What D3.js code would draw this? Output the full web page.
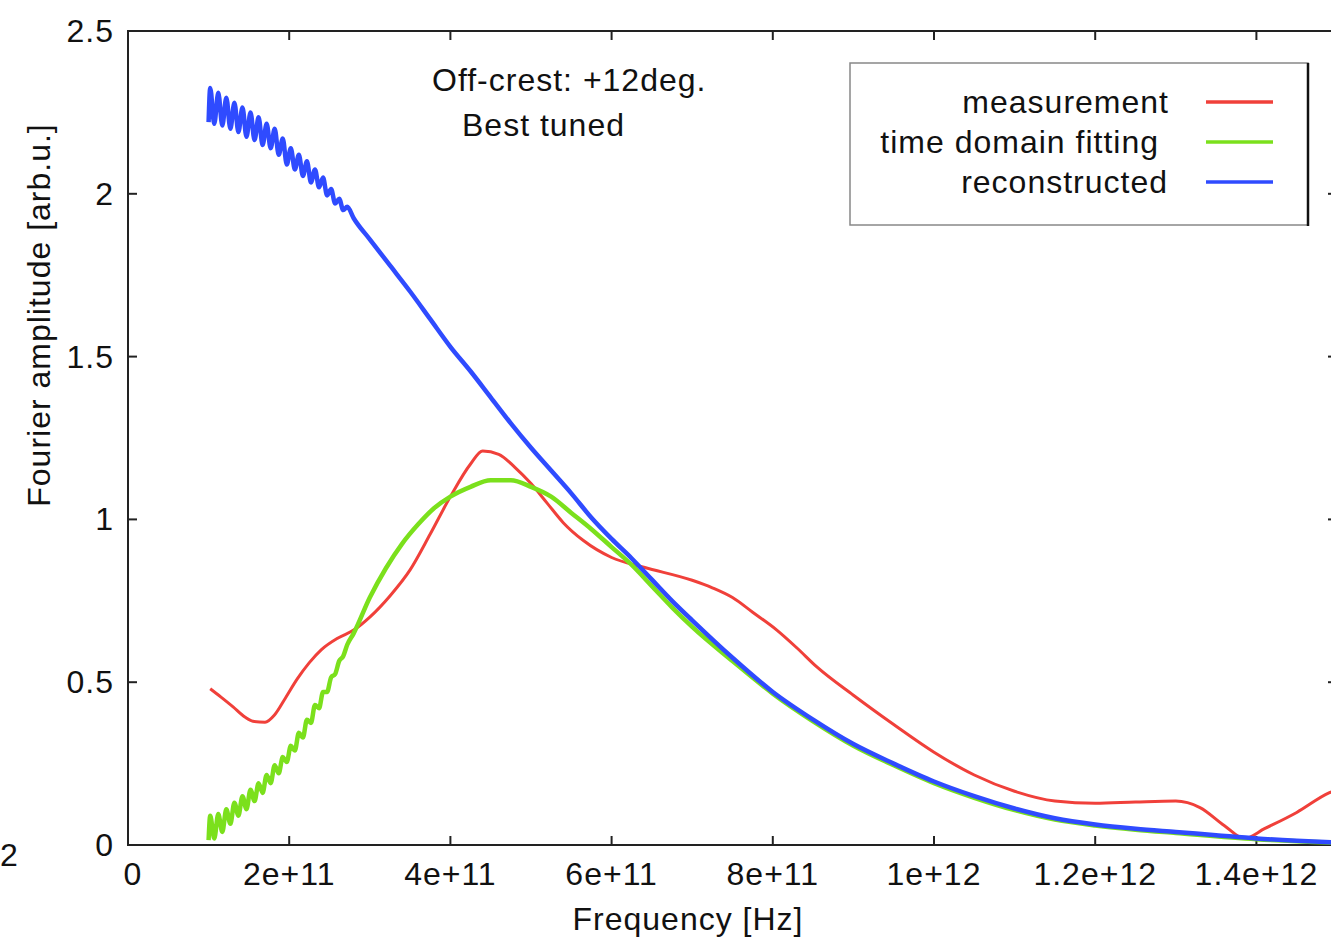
<!DOCTYPE html>
<html>
<head>
<meta charset="utf-8">
<script src="https://cdn.jsdelivr.net/npm/d3@7"></script>
<style>
  body { margin: 0; background: #fff; }
  svg text { font-family: "Liberation Sans", Arial, sans-serif; fill: #111; letter-spacing: 1px; }
</style>
</head>
<body>
<div id="chart"></div>
<script>
// Fourier amplitude spectra, off-crest +12deg
const xTicks = [0, 2e11, 4e11, 6e11, 8e11, 1e12, 1.2e12, 1.4e12];
const xTickLabels = ['0', '2e+11', '4e+11', '6e+11', '8e+11', '1e+12', '1.2e+12', '1.4e+12'];
const yTicks = [0, 0.5, 1, 1.5, 2, 2.5];
const yTickLabels = ['0', '0.5', '1', '1.5', '2', '2.5'];

// measurement (red)
const measFreq = [1.02e11, 1.15e11, 1.3e11, 1.45e11, 1.55e11, 1.7e11, 1.82e11, 1.95e11, 2.1e11, 2.25e11,
  2.4e11, 2.6e11, 2.8e11, 3.0e11, 3.25e11, 3.5e11, 3.75e11, 4.0e11, 4.25e11, 4.4e11, 4.6e11, 4.8e11,
  5.0e11, 5.2e11, 5.4e11, 5.65e11, 6.0e11, 6.4e11, 7.0e11, 7.25e11, 7.5e11, 7.75e11, 8.05e11, 8.3e11,
  8.55e11, 9.0e11, 9.5e11, 1.0e12, 1.05e12, 1.1e12, 1.15e12, 1.2e12, 1.25e12, 1.3e12, 1.33e12, 1.36e12,
  1.385e12, 1.41e12, 1.45e12, 1.49e12, 1.5e12];
const measAmp = [0.48, 0.455, 0.425, 0.393, 0.38, 0.377, 0.40, 0.45, 0.51, 0.56,
  0.60, 0.635, 0.66, 0.70, 0.765, 0.845, 0.955, 1.07, 1.17, 1.21, 1.20, 1.16,
  1.11, 1.05, 0.99, 0.935, 0.883, 0.853, 0.813, 0.79, 0.76, 0.715, 0.66, 0.605,
  0.546, 0.46, 0.37, 0.285, 0.215, 0.165, 0.135, 0.128, 0.132, 0.135, 0.115, 0.06,
  0.02, 0.05, 0.10, 0.16, 0.17];

// time domain fitting (green)
const fitFreq = [1.0e11, 1.02e11, 1.07e11, 1.12e11, 1.17e11, 1.22e11, 1.27e11, 1.32e11, 1.37e11, 1.42e11,
  1.47e11, 1.52e11, 1.57e11, 1.62e11, 1.67e11, 1.72e11, 1.77e11, 1.82e11, 1.87e11, 1.92e11,
  1.97e11, 2.02e11, 2.07e11, 2.12e11, 2.17e11, 2.22e11, 2.27e11, 2.32e11, 2.37e11, 2.42e11,
  2.47e11, 2.52e11, 2.57e11, 2.62e11, 2.67e11, 2.72e11, 2.8e11, 3.0e11, 3.2e11, 3.4e11,
  3.6e11, 3.8e11, 4.0e11, 4.25e11, 4.5e11, 4.75e11, 5.0e11, 5.25e11, 5.5e11, 5.75e11,
  6.0e11, 6.25e11, 6.5e11, 6.75e11, 7.0e11, 7.5e11, 8.0e11, 8.5e11, 9.0e11, 9.5e11,
  1.0e12, 1.05e12, 1.1e12, 1.15e12, 1.2e12, 1.25e12, 1.3e12, 1.4e12, 1.5e12];
const fitAmp = [0.015, 0.09, 0.02, 0.095, 0.04, 0.11, 0.065, 0.13, 0.09, 0.15,
  0.11, 0.17, 0.135, 0.19, 0.16, 0.215, 0.19, 0.245, 0.22, 0.27,
  0.255, 0.305, 0.29, 0.345, 0.33, 0.385, 0.375, 0.43, 0.42, 0.47,
  0.47, 0.515, 0.525, 0.565, 0.58, 0.615, 0.65, 0.76, 0.85, 0.925,
  0.985, 1.035, 1.07, 1.10, 1.12, 1.12, 1.10, 1.07, 1.02, 0.97,
  0.915, 0.86, 0.795, 0.73, 0.67, 0.565, 0.465, 0.38, 0.305, 0.245,
  0.19, 0.145, 0.107, 0.078, 0.06, 0.047, 0.037, 0.018, 0.007];

// reconstructed (blue)
const recFreq = [1.0e11, 1.02e11, 1.07e11, 1.12e11, 1.17e11, 1.22e11, 1.27e11, 1.32e11, 1.37e11, 1.42e11,
  1.47e11, 1.52e11, 1.57e11, 1.62e11, 1.67e11, 1.72e11, 1.77e11, 1.82e11, 1.87e11, 1.92e11,
  1.97e11, 2.02e11, 2.07e11, 2.12e11, 2.17e11, 2.22e11, 2.27e11, 2.32e11, 2.37e11, 2.42e11,
  2.47e11, 2.52e11, 2.57e11, 2.62e11, 2.67e11, 2.72e11, 2.8e11, 3.0e11, 3.25e11, 3.5e11,
  3.75e11, 4.0e11, 4.25e11, 4.5e11, 4.75e11, 5.0e11, 5.25e11, 5.5e11, 5.75e11, 6.0e11,
  6.25e11, 6.5e11, 6.75e11, 7.0e11, 7.5e11, 8.0e11, 8.5e11, 9.0e11, 9.5e11, 1.0e12,
  1.05e12, 1.1e12, 1.15e12, 1.2e12, 1.25e12, 1.3e12, 1.35e12, 1.4e12, 1.45e12, 1.5e12];
const recAmp = [2.22, 2.325, 2.215, 2.31, 2.21, 2.295, 2.20, 2.28, 2.19, 2.265,
  2.175, 2.25, 2.165, 2.235, 2.15, 2.215, 2.14, 2.20, 2.12, 2.17,
  2.09, 2.14, 2.075, 2.12, 2.055, 2.10, 2.035, 2.075, 2.02, 2.05,
  1.995, 2.015, 1.97, 1.985, 1.95, 1.96, 1.925, 1.86, 1.78, 1.70,
  1.615, 1.53, 1.455, 1.375, 1.295, 1.22, 1.15, 1.08, 1.005, 0.94,
  0.88, 0.815, 0.75, 0.69, 0.575, 0.47, 0.385, 0.31, 0.25, 0.195,
  0.15, 0.112, 0.082, 0.063, 0.05, 0.04, 0.03, 0.02, 0.013, 0.008];

const seriesNames = ['measurement', 'time domain fitting', 'reconstructed'];
const seriesColors = ['#f0403a', '#7be01c', '#2f4bff'];

const W = 1331, H = 939;
const M = { t: 31, r: -6, b: 94, l: 128 };
const FS = 32;

const svg = d3.select('#chart').append('svg')
  .attr('width', W)
  .attr('height', H)
  .style('display', 'block');

const x = d3.scaleLinear().domain([0, 1.5e12]).range([M.l, W - M.r]);
const y = d3.scaleLinear().domain([0, 2.5]).range([H - M.b, M.t]);

const axisColor = '#222';

// tick marks pointing inward on all four sides
const tickLen = 9;
const ticks = svg.append('g').attr('stroke', axisColor).attr('stroke-width', 2);
ticks.selectAll('.xb').data(xTicks.slice(1)).enter().append('line')
  .attr('x1', d => x(d)).attr('x2', d => x(d))
  .attr('y1', y(0)).attr('y2', y(0) - tickLen);
ticks.selectAll('.xt').data(xTicks.slice(1)).enter().append('line')
  .attr('x1', d => x(d)).attr('x2', d => x(d))
  .attr('y1', y(2.5)).attr('y2', y(2.5) + tickLen);
ticks.selectAll('.yl').data(yTicks.slice(1, -1)).enter().append('line')
  .attr('x1', x(0)).attr('x2', x(0) + tickLen)
  .attr('y1', d => y(d)).attr('y2', d => y(d));
ticks.selectAll('.yr').data(yTicks.slice(1, -1)).enter().append('line')
  .attr('x1', x(1.5e12)).attr('x2', x(1.5e12) - tickLen)
  .attr('y1', d => y(d)).attr('y2', d => y(d));

// frame
svg.append('rect')
  .attr('x', x(0)).attr('y', y(2.5))
  .attr('width', x(1.5e12) - x(0)).attr('height', y(0) - y(2.5))
  .attr('fill', 'none').attr('stroke', axisColor).attr('stroke-width', 2);

// tick labels
svg.append('g').selectAll('text').data(xTicks).enter().append('text')
  .attr('x', (d, i) => x(d) + (i === 0 ? 5 : 0))
  .attr('y', y(0) + 40)
  .attr('text-anchor', 'middle')
  .style('font-size', FS + 'px')
  .text((d, i) => xTickLabels[i]);

svg.append('g').selectAll('text').data(yTicks).enter().append('text')
  .attr('x', x(0) - 14)
  .attr('y', d => y(d) + 11)
  .attr('text-anchor', 'end')
  .style('font-size', FS + 'px')
  .text((d, i) => yTickLabels[i]);

// axis titles
svg.append('text')
  .attr('x', 688).attr('y', 930)
  .attr('text-anchor', 'middle')
  .style('font-size', FS + 'px')
  .text('Frequency [Hz]');

svg.append('text')
  .attr('transform', `translate(50,${315}) rotate(-90)`)
  .attr('text-anchor', 'middle')
  .style('font-size', FS + 'px')
  .text('Fourier amplitude [arb.u.]');

// stray label from the neighbouring panel
svg.append('text')
  .attr('x', 0).attr('y', 866)
  .style('font-size', FS + 'px')
  .text('2');

// annotation
svg.append('text').attr('x', 432).attr('y', 91).style('font-size', FS + 'px').text('Off-crest: +12deg.');
svg.append('text').attr('x', 462).attr('y', 136).style('font-size', FS + 'px').text('Best tuned');

// curves
const line = d3.line()
  .x(d => x(d[0]))
  .y(d => y(d[1]))
  .curve(d3.curveMonotoneX);

const series = [
  { f: measFreq, a: measAmp, w: 3 },
  { f: fitFreq, a: fitAmp, w: 4.5 },
  { f: recFreq, a: recAmp, w: 4.5 }
];

const plot = svg.append('g');
series.forEach((s, i) => {
  plot.append('path')
    .datum(s.f.map((f, k) => [f, s.a[k]]))
    .attr('d', line)
    .attr('fill', 'none')
    .attr('stroke', seriesColors[i])
    .attr('stroke-width', s.w)
    .attr('stroke-linejoin', 'round');
});

// legend
const lg = svg.append('g');
lg.append('rect')
  .attr('x', 850).attr('y', 63).attr('width', 458).attr('height', 162)
  .attr('fill', '#fff').attr('stroke', '#888').attr('stroke-width', 1.5);
lg.append('line')
  .attr('x1', 1308).attr('x2', 1308).attr('y1', 63).attr('y2', 226)
  .attr('stroke', '#111').attr('stroke-width', 2.5);

const legY = [102, 142, 182];
const legTextX = [1169, 1159, 1168];
seriesNames.forEach((n, i) => {
  lg.append('text')
    .attr('x', legTextX[i]).attr('y', legY[i] + 11)
    .attr('text-anchor', 'end')
    .style('font-size', FS + 'px')
    .text(n);
  lg.append('line')
    .attr('x1', 1206).attr('x2', 1273)
    .attr('y1', legY[i]).attr('y2', legY[i])
    .attr('stroke', seriesColors[i]).attr('stroke-width', 3.5);
});
</script>
</body>
</html>
